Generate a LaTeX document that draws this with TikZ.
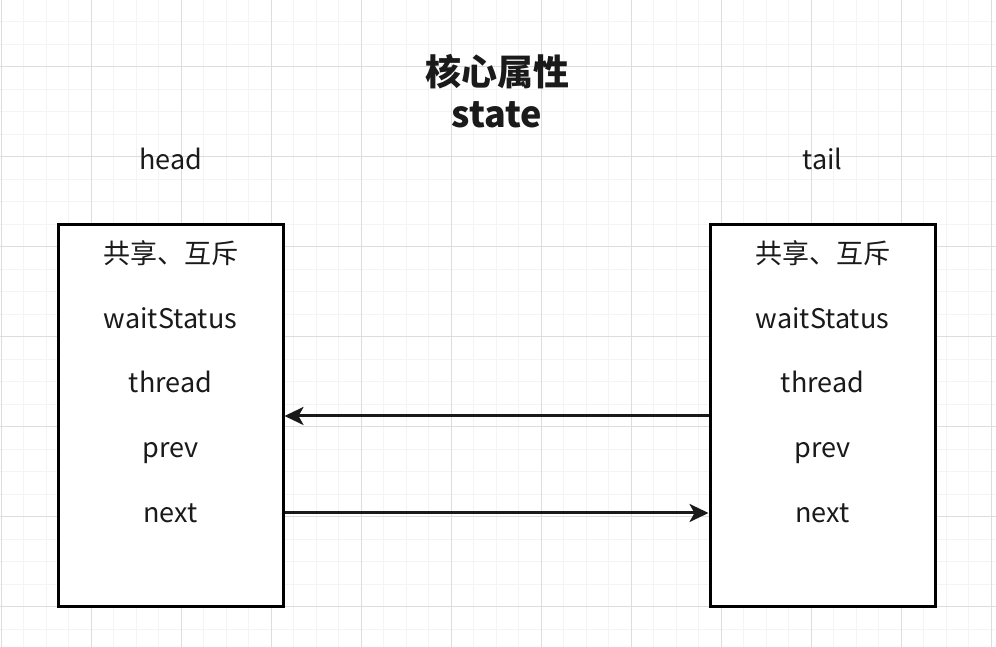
\documentclass[tikz,border=0pt]{standalone}
\usepackage{fontspec}
\setmainfont{Noto Sans CJK SC}
\usetikzlibrary{arrows.meta, positioning}
\definecolor{gridminor}{RGB}{244,244,244}
\definecolor{gridmajor}{RGB}{221,221,221}
\definecolor{inkdark}{RGB}{26,26,26}
\tikzset{
  cell/.style={rectangle, draw=black, line width=3pt, fill=white,
               minimum width=225pt, minimum height=382pt, inner sep=0pt},
  field/.style={font=\fontsize{27}{32}\selectfont, text=inkdark, inner sep=0pt,
                text height=0.78em, text depth=0.22em},
  lbl/.style={font=\fontsize{27}{32}\selectfont, text=inkdark, inner sep=0pt,
              text height=0.78em, text depth=0.22em},
  ttl/.style={font=\bfseries\fontsize{36}{42}\selectfont, text=inkdark, align=center, inner sep=0pt,
              text height=0.78em, text depth=0.22em},
  arr/.style={-{Stealth[length=19pt, width=18pt, inset=5pt]}, line width=3pt, draw=inkdark}
}

\begin{document}
\begin{tikzpicture}[x=1pt, y=1pt]
\useasboundingbox (0,0) rectangle (996,647);
% background grid
\foreach \i in {0,...,44} \draw[gridminor, line width=1pt] (1+22.5*\i,0) -- ++(0,647);
\foreach \j in {-1,...,26} \draw[gridminor, line width=1pt] (0,40+22.5*\j) -- ++(996,0);
\foreach \i in {0,...,11} \draw[gridmajor, line width=1pt] (1+90*\i,0) -- ++(0,647);
\foreach \j in {0,...,6} \draw[gridmajor, line width=1pt] (0,40+90*\j) -- ++(996,0);
% title
\node[ttl] (title) at (497,564) {核心属性};
\node[ttl] (prop) at (497,522) {state};
% head node
\node[cell] (hbox) at (170.5,231) {};
\node[lbl] (hlbl) at (170.5,480) {head};
\node[field] (hmode) at (170.5,386) {共享、互斥};
\node[field] (hwait) at (170.5,321) {waitStatus};
\node[field] (hthread) at (170.5,257) {thread};
\node[field] (hprev) at (170.5,192) {prev};
\node[field] (hnext) at (170.5,127) {next};
% tail node
\node[cell] (tbox) at (822.5,231) {};
\node[lbl] (tlbl) at (822.5,480) {tail};
\node[field] (tmode) at (822.5,386) {共享、互斥};
\node[field] (twait) at (822.5,321) {waitStatus};
\node[field] (tthread) at (822.5,257) {thread};
\node[field] (tprev) at (822.5,192) {prev};
\node[field] (tnext) at (822.5,127) {next};
% links
\draw[arr] (tbox.west) -- (hbox.east);
\draw[arr] (hbox.east |- 0,134) coordinate (nx) -- (tbox.west |- nx);
\end{tikzpicture}
\end{document}
